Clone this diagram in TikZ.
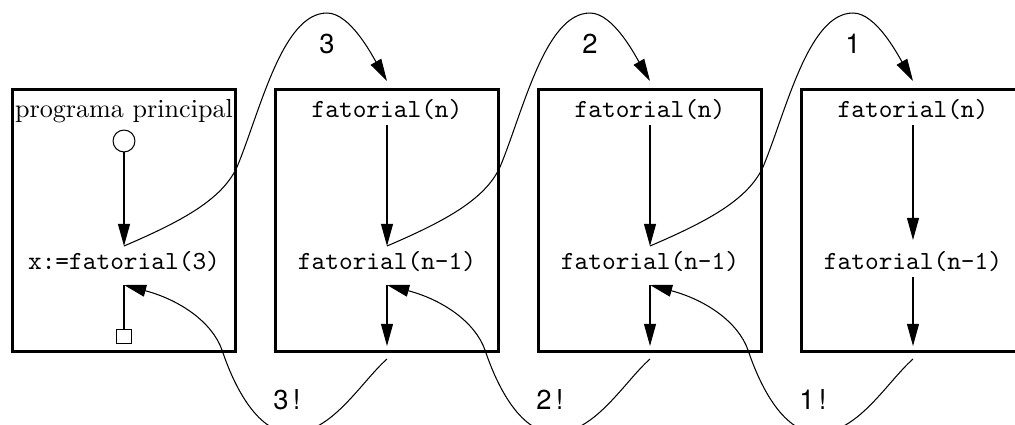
\documentclass[tikz,border=0pt]{standalone}
\usepackage{fontspec}
\newfontfamily\lblfont{TeX Gyre Heros}
\usetikzlibrary{arrows.meta}
\begin{document}
\begin{tikzpicture}[x=0.3832pt,y=-0.3832pt,
  frame/.style={draw,line width=1.15pt,minimum width=85.8pt,minimum height=100.4pt,inner sep=0pt},
  code/.style={font=\ttfamily,inner sep=0pt},
  lbl/.style={font=\lblfont\fontsize{10.5}{12}\selectfont,inner sep=0pt},
  arr/.style={-{Triangle[length=8.5pt,width=4.6pt]},line width=0.4pt},
  thinline/.style={line width=0.4pt},
  ]
\useasboundingbox (0,0) rectangle (1015,424);
\clip (0,0) rectangle (1015,424);

% boxes
\node[frame] (box0) at (124,220) {};
\node[frame] (box1) at (387,220) {};
\node[frame] (box2) at (650,220) {};
\node[frame] (box3) at (913,220) {};

% main program
\node[inner sep=0pt] (pp) at (124,111) {programa principal};
\node[draw,thinline,circle,minimum size=8.4pt,inner sep=0pt] (start) at (124,141) {};
\node[code] (call0) at (124,262) {x:=fatorial(3)};
\node[draw,thinline,minimum size=5.7pt,inner sep=0pt] (stop) at (124,336.5) {};
\coordinate (in0) at (124,246);
\coordinate (out0) at (124,285);
\draw[arr] (start) -- (in0);
\draw[thinline] (out0) -- (stop);

% function boxes
\foreach \k/\x in {1/387,2/650,3/913}{
  \node[code] (fn\k) at (\x,110) {fatorial(n)};
  \node[code] (fm\k) at (\x,262) {fatorial(n-1)};
  \coordinate (top\k) at (\x,81);
  \coordinate (bot\k) at (\x,346);
  \coordinate (ret\k) at (\x,359);
}
\coordinate (in1) at (387,246);
\coordinate (in2) at (650,246);
\coordinate (in3) at (913,240);
\coordinate (out1) at (387,285);
\coordinate (out2) at (650,285);
\coordinate (out3) at (913,277);
\coordinate (s1) at (387,125);
\coordinate (s2) at (650,125);
\coordinate (s3) at (913,125);
\foreach \k in {1,2,3}{
  \draw[arr] (s\k) -- (in\k);
  \draw[arr] (out\k) -- (bot\k);
}

% call curves
\foreach \k/\n/\x in {0/1/124,1/2/387,2/3/650}{
  \coordinate (ca\k) at ({\x+113},167);
  \coordinate (cp\k) at ({\x+203},13);
  \draw[arr] (in\k) .. controls ({\x+56},222) and ({\x+98},200) .. (ca\k)
     .. controls ({\x+136},112) and ({\x+158},13) .. (cp\k)
     .. controls ({\x+226},13) and ({\x+248},55) .. (top\n);
}

% return curves
\foreach \k/\p/\x in {1/0/387,2/1/650,3/2/913}{
  \coordinate (rb\k) at ({\x-95},433);
  \coordinate (rk\k) at ({\x-165},350);
  \draw[arr] (ret\k) .. controls ({\x-26},382) and ({\x-55},433) .. (rb\k)
     .. controls ({\x-132},433) and ({\x-155},380) .. (rk\k)
     .. controls ({\x-175},322) and ({\x-207},300) .. (out\p);
}

% labels
\node[lbl] (l3) at (327,44) {3};
\node[lbl] (l2) at (590,44) {2};
\node[lbl] (l1) at (853,44) {1};
\node[lbl] (r3) at (287,400) {3\kern1.6pt!};
\node[lbl] (r2) at (550,400) {2\kern1.6pt!};
\node[lbl] (r1) at (813,400) {1\kern1.6pt!};
\end{tikzpicture}
\end{document}
